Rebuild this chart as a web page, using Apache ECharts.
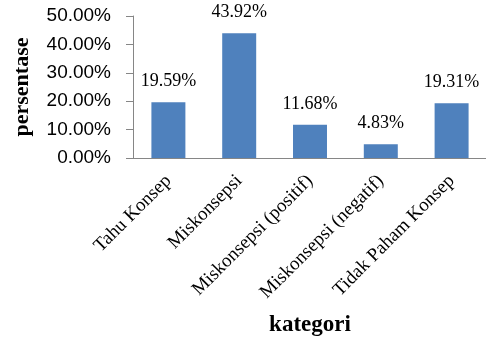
<!DOCTYPE html>
<html>
<head>
<meta charset="utf-8">
<script src="https://cdn.jsdelivr.net/npm/echarts@6/dist/echarts.min.js"></script>
<style>
html, body { margin: 0; padding: 0; background: #fff; }
#chart { width: 486px; height: 337px; }
</style>
</head>
<body>
<div id="chart"></div>
<script>
var categories = ["Tahu Konsep", "Miskonsepsi", "Miskonsepsi (positif)", "Miskonsepsi (negatif)", "Tidak Paham Konsep"];
var values = [19.59, 43.92, 11.68, 4.83, 19.31];
var yTicks = [0, 10, 20, 30, 40, 50];

var myChart = echarts.init(document.getElementById("chart"));
myChart.setOption({
    animation: false,
    grid: {
        left: 133,
        top: 16,
        width: 354,
        height: 142,
        containLabel: false,
        outerBoundsMode: "none",
    },
    xAxis: {
        type: "category",
        data: categories,
        name: "kategori",
        nameLocation: "middle",
        nameGap: 156,
        nameTextStyle: {
            fontFamily: "Liberation Serif",
            fontWeight: "bold",
            fontSize: 23,
            color: "#000",
        },
        axisLine: { lineStyle: { color: "#868686", width: 1 } },
        axisTick: { show: false },
        axisLabel: {
            rotate: 45,
            interval: 0,
            margin: 20,
            fontFamily: "Liberation Serif",
            fontSize: 19,
            color: "#000",
        },
    },
    yAxis: {
        type: "value",
        min: yTicks[0],
        max: yTicks[yTicks.length - 1],
        interval: 10,
        name: "persentase",
        nameLocation: "middle",
        nameGap: 100,
        nameRotate: 90,
        nameTextStyle: {
            fontFamily: "Liberation Serif",
            fontWeight: "bold",
            fontSize: 22,
            color: "#000",
        },
        axisLine: { show: true, lineStyle: { color: "#868686", width: 1 } },
        axisTick: { show: true, length: 7, lineStyle: { color: "#868686" } },
        splitLine: { show: false },
        axisLabel: {
            margin: 22,
            fontFamily: "Liberation Sans",
            fontSize: 19,
            color: "#000",
            formatter: function (v) {
                return v.toFixed(2) + "%";
            },
        },
    },
    series: [{
        type: "bar",
        data: values,
        barWidth: "48%",
        itemStyle: { color: "#4F81BD" },
        label: {
            show: true,
            position: "top",
            distance: 12,
            fontFamily: "Liberation Serif",
            fontSize: 18,
            color: "#000",
            formatter: function (p) {
                return p.value.toFixed(2) + "%";
            },
        },
    }],
});
</script>
</body>
</html>
